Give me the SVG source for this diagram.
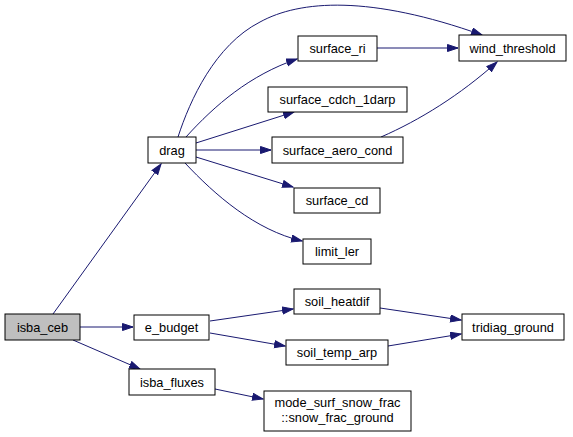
<svg xmlns="http://www.w3.org/2000/svg" width="573" height="437" viewBox="0 0 573 437">
<style>
.n rect{fill:#ffffff;stroke:#000000;stroke-width:1}
.n text{font-family:"Liberation Sans",Arial,sans-serif;font-size:12.8px;fill:#000000;text-anchor:middle}
.e path{fill:none;stroke:#191970;stroke-width:1}
</style>
<defs>
<marker id="a" markerUnits="userSpaceOnUse" markerWidth="12" markerHeight="9" refX="11" refY="4" orient="auto">
<path d="M0.5,0.5 L11,4 L0.5,7.5 z" fill="#191970" stroke="#191970" stroke-width="1"/>
</marker>
</defs>
<rect width="573" height="437" fill="#ffffff"/>
<g class="e" id="connectors">
<path marker-end="url(#a)" d="M53,314 L161,164"/>
<path marker-end="url(#a)" d="M80,327 L133,327"/>
<path marker-end="url(#a)" d="M73,340 L140,369"/>
<path marker-end="url(#a)" d="M178,137 C190,100 215,45 260,22 C300,0 370,-5 482,35"/>
<path marker-end="url(#a)" d="M186,137 C215,105 250,75 297,59"/>
<path marker-end="url(#a)" d="M196,143 L294,112"/>
<path marker-end="url(#a)" d="M196,150 L271,150"/>
<path marker-end="url(#a)" d="M196,157 L293,187"/>
<path marker-end="url(#a)" d="M185,163 C215,195 255,230 302,241"/>
<path marker-end="url(#a)" d="M377,48 L458,48"/>
<path marker-end="url(#a)" d="M381,137 C420,120 460,95 497,62"/>
<path marker-end="url(#a)" d="M210,321 L293,309"/>
<path marker-end="url(#a)" d="M210,333 L285,346"/>
<path marker-end="url(#a)" d="M380,308 L461,320"/>
<path marker-end="url(#a)" d="M388,346 L461,334"/>
<path marker-end="url(#a)" d="M215,389 L263,399"/>
</g>
<g class="n" id="isba_ceb"><rect x="5" y="314" width="75" height="26" style="fill:#bfbfbf"/><text x="42.5" y="331.5">isba_ceb</text></g>
<g class="n" id="e_budget"><rect x="134" y="315" width="75" height="25"/><text x="171.5" y="332">e_budget</text></g>
<g class="n" id="isba_fluxes"><rect x="129" y="369" width="86" height="26"/><text x="172" y="386.5">isba_fluxes</text></g>
<g class="n" id="drag"><rect x="148" y="137" width="48" height="26"/><text x="172" y="154.5">drag</text></g>
<g class="n" id="surface_ri"><rect x="298" y="36" width="79" height="25"/><text x="337.5" y="53">surface_ri</text></g>
<g class="n" id="surface_cdch_1darp"><rect x="268" y="87" width="139" height="25"/><text x="337.5" y="104">surface_cdch_1darp</text></g>
<g class="n" id="surface_aero_cond"><rect x="272" y="137" width="131" height="26"/><text x="337.5" y="154.5">surface_aero_cond</text></g>
<g class="n" id="surface_cd"><rect x="294" y="188" width="86" height="25"/><text x="337" y="205">surface_cd</text></g>
<g class="n" id="limit_ler"><rect x="303" y="239" width="68" height="25"/><text x="337" y="256">limit_ler</text></g>
<g class="n" id="wind_threshold"><rect x="459" y="35" width="107" height="26"/><text x="512.5" y="52.5">wind_threshold</text></g>
<g class="n" id="soil_heatdif"><rect x="294" y="289" width="86" height="25"/><text x="337" y="306">soil_heatdif</text></g>
<g class="n" id="soil_temp_arp"><rect x="286" y="340" width="102" height="25"/><text x="337" y="357">soil_temp_arp</text></g>
<g class="n" id="tridiag_ground"><rect x="462" y="314" width="102" height="26"/><text x="513" y="331.5">tridiag_ground</text></g>
<g class="n" id="snow_frac_ground"><rect x="264" y="391" width="147" height="40"/><text x="337.5" y="407">mode_surf_snow_frac</text><text x="337.5" y="421.5">::snow_frac_ground</text></g>
</svg>
